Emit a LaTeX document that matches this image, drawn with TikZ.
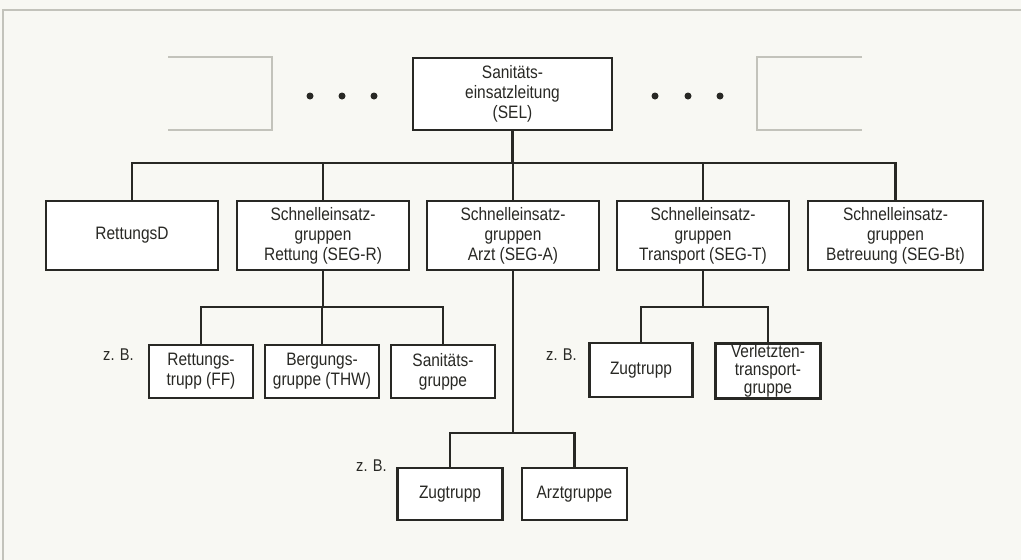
\documentclass[tikz,border=0pt]{standalone}
\usepackage{fontspec}
\setmainfont{Liberation Sans}[FakeStretch=0.86]
\definecolor{paper}{RGB}{248,248,243}
\definecolor{ink}{RGB}{40,40,36}
\definecolor{ghost}{RGB}{195,195,187}
\begin{document}
\begin{tikzpicture}[x=1pt,y=-1pt,
  box/.style={draw=ink,line width=2.4pt,fill=white,text=ink,align=center,
    inner sep=0pt,font=\fontsize{18}{20}\selectfont},
  wire/.style={draw=ink,line width=2.2pt},
  zb/.style={text=ink,font=\fontsize{17}{19}\selectfont,inner sep=0pt},
  dot/.style={circle,fill=ink,inner sep=0pt,minimum size=7pt}]
\fill[paper] (0,0) rectangle (1021,560);
\useasboundingbox (0,0) rectangle (1021,560);
% outer frame (top and left edges)
\draw[ghost,line width=1.5pt] (3,560) -- (3,10) -- (1021,10);
% ghost boxes
\draw[ghost,line width=1.2pt] (168,57) -- (272,57) -- (272,130) -- (168,130);
\draw[ghost,line width=1.2pt] (862,57) -- (757,57) -- (757,130) -- (862,130);
% dots
\node[dot] (d1) at (310,96) {};
\node[dot] (d2) at (342,96) {};
\node[dot] (d3) at (374,96) {};
\node[dot] (d4) at (655,96) {};
\node[dot] (d5) at (688,96) {};
\node[dot] (d6) at (720,96) {};
% top
\node[box,minimum width=199pt,minimum height=72pt] (sel) at (512.5,94) {Sanitäts-\\einsatzleitung\\(SEL)};
% level 2
\node[box,minimum width=172pt,minimum height=69pt] (rd) at (132,235.5) {RettungsD};
\node[box,minimum width=172pt,minimum height=69pt] (segr) at (323,235.5) {Schnelleinsatz-\\gruppen\\Rettung (SEG-R)};
\node[box,minimum width=172pt,minimum height=69pt] (sega) at (513,235.5) {Schnelleinsatz-\\gruppen\\Arzt (SEG-A)};
\node[box,minimum width=172pt,minimum height=69pt] (segt) at (703,235.5) {Schnelleinsatz-\\gruppen\\Transport (SEG-T)};
\node[box,minimum width=175pt,minimum height=69pt] (segbt) at (895.5,235.5) {Schnelleinsatz-\\gruppen\\Betreuung (SEG-Bt)};
% level 3 under SEG-R
\node[box,minimum width=104pt,minimum height=53pt] (rt) at (201,371.5) {Rettungs-\\trupp (FF)};
\node[box,minimum width=114pt,minimum height=53pt] (bg) at (322,371.5) {Bergungs-\\gruppe (THW)};
\node[box,minimum width=104pt,minimum height=53pt] (sg) at (443,371.5) {Sanitäts-\\gruppe};
% level 3 under SEG-T
\node[box,minimum width=103pt,minimum height=54pt] (zt1) at (641,370) {Zugtrupp};
\node[box,minimum width=105pt,minimum height=55pt,font=\fontsize{18}{18}\selectfont] (vt) at (768,371) {Verletzten-\\transport-\\gruppe};
% level 3 under SEG-A
\node[box,minimum width=105pt,minimum height=52pt] (zt2) at (450,494) {Zugtrupp};
\node[box,minimum width=105pt,minimum height=52pt] (ag) at (574.5,494) {Arztgruppe};
% z. B. labels
\node[zb,anchor=east] (zb1) at (134,355) {z. B.};
\node[zb,anchor=east] (zb2) at (577,355) {z. B.};
\node[zb,anchor=east] (zb3) at (387,466) {z. B.};
% connectors
\coordinate (bus1) at (512,163);
\coordinate (bus2) at (323,307);
\coordinate (bus3) at (703,307);
\coordinate (bus4) at (513,433);
\draw[wire] (sel.south) -- (sel.south |- bus1);
\draw[wire] (rd.north) |- (bus1) -| (segbt.north);
\draw[wire] (segr.north) -- (segr.north |- bus1);
\draw[wire] (sega.north) -- (sega.north |- bus1);
\draw[wire] (segt.north) -- (segt.north |- bus1);
\draw[wire] (segr.south) -- (bus2);
\draw[wire] (rt.north) |- (bus2) -| (sg.north);
\draw[wire] (bg.north) -- (bg.north |- bus2);
\draw[wire] (segt.south) -- (bus3);
\draw[wire] (zt1.north) |- (bus3) -| (vt.north);
\draw[wire] (sega.south) -- (bus4);
\draw[wire] (zt2.north) |- (bus4) -| (ag.north);
\end{tikzpicture}
\end{document}
